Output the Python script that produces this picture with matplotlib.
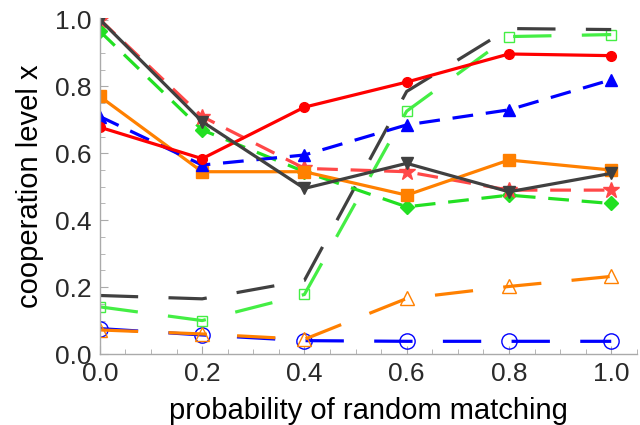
import numpy as np
import matplotlib
matplotlib.use("Agg")
import matplotlib.pyplot as plt
from matplotlib.ticker import MultipleLocator

plt.rcParams['font.family'] = ['Liberation Sans', 'DejaVu Sans']

p = [0.0, 0.2, 0.4, 0.6, 0.8, 1.0]

# filled-marker series
red_circ = [0.678, 0.584, 0.738, 0.813, 0.897, 0.892]
blue_tri = [0.71, 0.565, 0.595, 0.685, 0.73, 0.82]
orange_sq = [0.77, 0.545, 0.545, 0.475, 0.58, 0.55]
pink_star = [1.0, 0.71, 0.555, 0.545, 0.49, 0.49]
green_dia = [0.965, 0.67, 0.545, 0.44, 0.475, 0.45]
gray_tri = [1.0, 0.695, 0.495, 0.57, 0.485, 0.54]

# hollow-marker series (long dashes)
gray_long = [0.175, 0.165, 0.22, 0.785, 0.973, 0.97]
green_sq = [0.141, 0.10, 0.178, 0.726, 0.949, 0.955]
orange_tri = [0.072, 0.060, 0.044, 0.166, 0.202, 0.232]
blue_circ = [0.076, 0.057, 0.040, 0.038, 0.038, 0.038]

fig = plt.figure(figsize=(6.4, 4.25), dpi=100)
ax = fig.add_axes([0.156, 0.167, 0.839, 0.791])

lw = 2.3
short = (0, (6.5, 4))
long_ = (0, (12, 9.5))

# long dashed, hollow markers
ax.plot(p, blue_circ, color='#0000FF', lw=lw, ls=long_, marker='o', ms=11,
        mfc='none', mec='#0000FF', mew=1.0)
ax.plot(p, orange_tri, color='#FF8000', lw=lw, ls=long_, marker='^', ms=10,
        mfc='none', mec='#FF8000', mew=1.0)
ax.plot(p, green_sq, color='#44EE44', lw=lw, ls=long_, marker='s', ms=7,
        mfc='none', mec='#44EE44', mew=1.0)
ax.plot(p, gray_long, color='#404040', lw=lw, ls=long_)

# solid / short dashed, filled markers
ax.plot(p, green_dia, color='#22E022', lw=lw, ls=short, marker='D', ms=7)
ax.plot(p, pink_star, color='#FF4848', lw=lw, ls=short, marker='*', ms=12)
ax.plot(p, orange_sq, color='#FF8000', lw=lw, marker='s', ms=8)
ax.plot(p, blue_tri, color='#0000FF', lw=lw, ls=short, marker='^', ms=8)
ax.plot(p, red_circ, color='#FF0000', lw=lw, marker='o', ms=7)
ax.plot(p, gray_tri, color='#404040', lw=lw, marker='v', ms=8)

ax.set_xlim(0, 1.05)
ax.set_ylim(0, 1.005)
ax.xaxis.set_minor_locator(MultipleLocator(0.05))
ax.yaxis.set_minor_locator(MultipleLocator(0.05))
ax.set_xticks(np.arange(0, 1.01, 0.2))
ax.set_xticklabels(['0.0', '0.2', '0.4', '0.6', '0.8', '1.0'])
ax.set_yticks(np.arange(0, 1.01, 0.2))
ax.set_yticklabels(['0.0', '0.2', '0.4', '0.6', '0.8', '1.0'])

for s in ['top', 'right']:
    ax.spines[s].set_visible(False)
for s in ['left', 'bottom']:
    ax.spines[s].set_color('#AAAAAA')
    ax.spines[s].set_linewidth(1.0)

ax.tick_params(which='major', direction='in', length=6, width=0.8,
               color='#AAAAAA', labelsize=19, labelcolor='#2a2a2a')
ax.tick_params(which='major', axis='x', pad=6)
ax.tick_params(which='major', axis='y', pad=6)
ax.tick_params(which='minor', direction='in', length=3.5, width=0.6,
               color='#AAAAAA')

ax.set_xlabel('probability of random matching', fontsize=21, labelpad=8)
ax.set_ylabel('cooperation level x', fontsize=21, labelpad=8)

fig.savefig('out.png', dpi=100)
